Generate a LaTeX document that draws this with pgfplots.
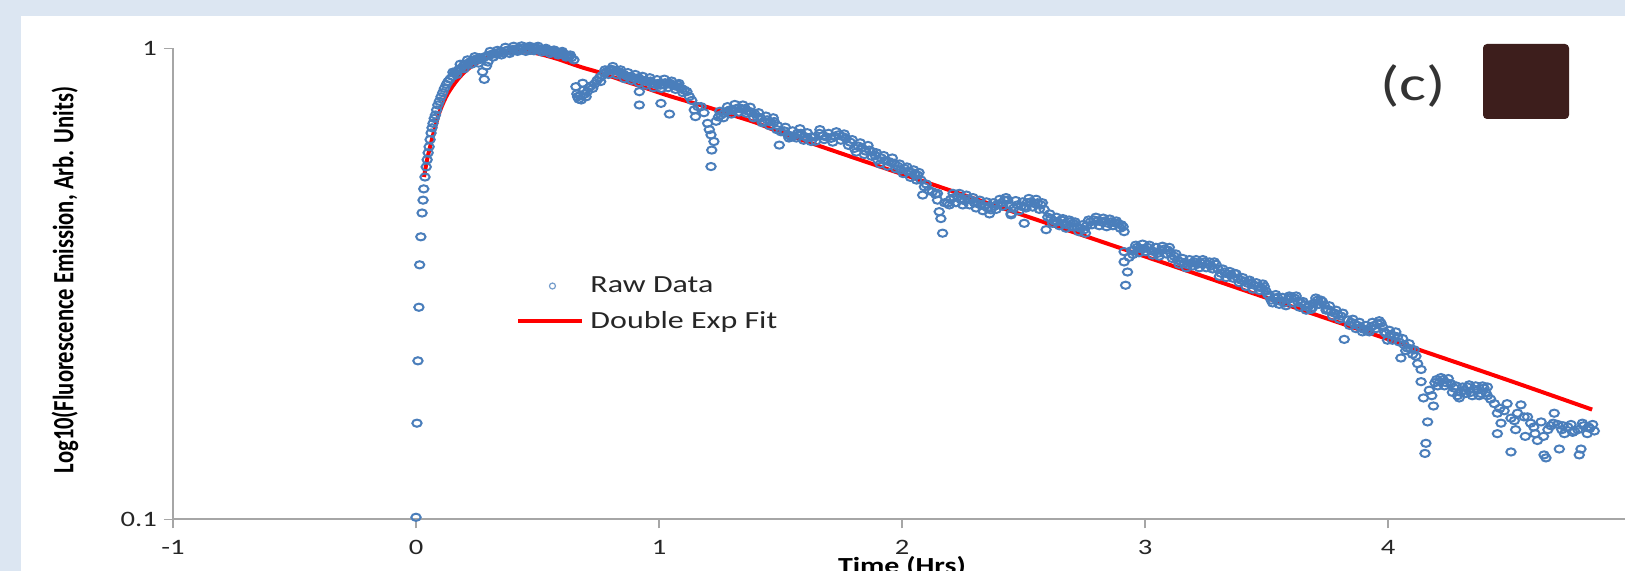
\documentclass[border=0pt]{standalone}
\usepackage{pgfplots}
\pgfplotsset{compat=1.18}
\usepackage{fontspec}
\setmainfont{Carlito}[FakeStretch=1.3]
\newfontfamily\ylabfont{Carlito}
\definecolor{bgblue}{HTML}{DCE6F2}
\definecolor{rawblue}{HTML}{4A7EBB}
\definecolor{axgray}{HTML}{A6A6A6}
\definecolor{txt}{HTML}{262626}
\definecolor{sq}{HTML}{3D1E1C}
\definecolor{fitred}{HTML}{FF0000}
\pgfplotsset{
  fitimg/.style={legend image code/.code={\path (0pt,0pt) (32pt,0pt); \draw[##1] (0pt,0pt) -- (32pt,0pt);}},
  rawimg/.style={legend image code/.code={\path (0pt,0pt) (32pt,0pt); \draw[##1, mark options={line width=0.6pt, mark size=1.5pt, draw=rawblue!75}] plot coordinates {(17pt,0pt)};}},
}
\begin{document}
\begin{tikzpicture}
\useasboundingbox (-86.5pt,-25.85pt) rectangle (726pt,259.65pt);
\clip (-86.5pt,-25.85pt) rectangle (726pt,259.65pt);
\fill[bgblue] (-86.5pt,-25.85pt) rectangle (726pt,259.65pt);
\fill[white] (-76pt,-25.85pt) rectangle (726pt,251.65pt);
\begin{axis}[
  at={(0pt,0pt)}, anchor=south west,
  scale only axis, width=729pt, height=235.5pt,
  xmin=-1, xmax=5, ymode=log, ymin=0.1, ymax=1,
  axis lines*=left,
  axis line style={axgray, line width=0.9pt},
  xtick={-1,0,1,2,3,4}, xticklabels={-1,0,1,2,3,4},
  ytick={0.1,1}, yticklabels={0.1,1},
  yminorticks=false, xminorticks=false,
  tick align=outside, major tick length=4.5pt,
  tick style={axgray, line width=0.7pt},
  ticklabel style={font=\fontsize{11}{13}\selectfont, text=txt},
  xticklabel style={yshift=-2.3pt},
  xlabel={\bfseries Time (Hrs)},
  xlabel style={at={(axis description cs:0.5,-0.079)}, anchor=north, inner sep=0pt, font=\fontsize{11.5}{13}\selectfont, text=black},
  ylabel={\scalebox{1}[1.3]{\ylabfont\bfseries Log10(Fluorescence Emission, Arb. Units)}},
  ylabel style={at={(axis description cs:-0.0741,0.508)}, anchor=center, inner sep=0pt, font=\fontsize{11.3}{13}\selectfont, text=black},
  clip=false,
  reverse legend,
  legend cell align=left,
  legend style={at={(0.2353,0.457)}, anchor=west, draw=none, fill=none,
    inner sep=0pt, row sep=8pt, column sep=3pt,
    font=\fontsize{12.3}{14}\selectfont, text=txt,
    nodes={inner sep=0pt}},
]
\addplot[fitred, line width=2pt, smooth, fitimg]
  table {
0.033 0.533
0.045 0.578
0.062 0.630
0.082 0.690
0.100 0.740
0.130 0.800
0.170 0.857
0.210 0.900
0.260 0.937
0.320 0.965
0.380 0.980
0.440 0.985
0.500 0.975
0.580 0.950
0.680 0.912
0.750 0.890
0.850 0.855
0.950 0.822
1.050 0.790
1.200 0.750
1.270 0.730
1.400 0.695
1.470 0.672
1.650 0.623
1.900 0.563
2.160 0.507
2.540 0.435
2.870 0.381
3.340 0.315
3.720 0.270
4.150 0.227
4.500 0.197
4.840 0.171
};
\addlegendentry{Double Exp Fit}
\addplot[only marks, mark=o, mark size=1.8pt,
  mark options={draw=rawblue, line width=1pt, xscale=1.3}, rawimg]
  table {
0.000 0.101
0.004 0.160
0.008 0.217
0.012 0.282
0.015 0.347
0.020 0.398
0.025 0.447
0.029 0.476
0.032 0.503
0.037 0.533
0.042 0.560
0.046 0.580
0.050 0.600
0.054 0.618
0.058 0.640
0.062 0.661
0.066 0.678
0.070 0.693
0.075 0.710
0.080 0.722
0.085 0.740
0.090 0.758
0.096 0.772
0.103 0.789
0.110 0.805
0.117 0.822
0.125 0.838
0.132 0.850
0.140 0.860
0.150 0.872
0.158 0.885
0.166 0.893
0.175 0.900
0.185 0.907
0.195 0.918
0.205 0.925
0.215 0.930
0.225 0.938
0.235 0.942
0.245 0.948
0.255 0.944
0.262 0.955
0.270 0.950
0.274 0.892
0.281 0.859
0.290 0.917
0.296 0.935
0.280 0.958
0.290 0.962
0.300 0.966
0.310 0.970
0.320 0.975
0.330 0.972
0.340 0.980
0.350 0.984
0.360 0.978
0.370 0.988
0.380 0.992
0.390 0.985
0.400 0.995
0.410 0.990
0.420 1.000
0.430 0.993
0.440 1.002
0.450 0.996
0.460 1.000
0.470 0.990
0.480 1.002
0.490 0.998
0.500 1.000
0.510 0.992
0.520 0.995
0.530 0.988
0.540 0.992
0.550 0.986
0.560 0.988
0.570 0.980
0.580 0.983
0.590 0.975
0.600 0.978
0.610 0.970
0.620 0.968
0.630 0.960
0.640 0.955
0.650 0.945
0.658 0.829
0.662 0.800
0.665 0.789
0.670 0.780
0.675 0.795
0.680 0.777
0.686 0.843
0.690 0.815
0.695 0.800
0.700 0.789
0.705 0.809
0.712 0.825
0.720 0.832
0.727 0.822
0.735 0.840
0.745 0.855
0.755 0.866
0.765 0.875
0.775 0.885
0.785 0.893
0.795 0.900
0.805 0.902
0.815 0.898
0.825 0.895
0.835 0.892
0.845 0.885
0.855 0.880
0.865 0.874
0.875 0.870
0.885 0.872
0.895 0.865
0.905 0.862
0.915 0.866
0.919 0.809
0.919 0.758
0.925 0.858
0.935 0.855
0.945 0.852
0.955 0.848
0.965 0.852
0.975 0.842
0.985 0.838
0.995 0.842
1.005 0.835
1.008 0.764
1.015 0.838
1.025 0.845
1.035 0.840
1.043 0.725
1.045 0.843
1.055 0.836
1.065 0.832
1.075 0.838
1.085 0.826
1.095 0.820
1.105 0.815
1.115 0.809
1.125 0.790
1.135 0.775
1.145 0.740
1.150 0.716
1.160 0.752
1.173 0.752
1.185 0.730
1.200 0.693
1.207 0.672
1.214 0.655
1.217 0.608
1.214 0.561
1.226 0.634
1.235 0.700
1.245 0.715
1.255 0.722
1.268 0.728
1.280 0.735
1.292 0.740
1.305 0.738
1.318 0.745
1.330 0.748
1.342 0.742
1.355 0.745
1.368 0.735
1.380 0.732
1.392 0.728
1.405 0.715
1.418 0.712
1.433 0.699
1.445 0.705
1.458 0.698
1.474 0.699
1.488 0.685
1.502 0.665
1.495 0.623
1.515 0.668
1.530 0.655
1.543 0.649
1.556 0.652
1.570 0.660
1.584 0.660
1.597 0.650
1.611 0.645
1.626 0.634
1.640 0.648
1.660 0.660
1.675 0.652
1.690 0.648
1.708 0.644
1.722 0.650
1.738 0.655
1.755 0.650
1.770 0.644
1.787 0.632
1.804 0.613
1.820 0.620
1.835 0.615
1.850 0.605
1.865 0.608
1.879 0.603
1.890 0.592
1.900 0.579
1.915 0.585
1.930 0.578
1.945 0.575
1.955 0.572
1.969 0.570
1.982 0.562
1.996 0.552
2.010 0.556
2.025 0.548
2.040 0.545
2.052 0.540
2.064 0.538
2.078 0.525
2.085 0.488
2.092 0.508
2.100 0.515
2.110 0.500
2.125 0.496
2.138 0.490
2.146 0.492
2.146 0.476
2.153 0.450
2.160 0.435
2.167 0.405
2.175 0.470
2.187 0.469
2.200 0.478
2.214 0.482
2.228 0.484
2.242 0.478
2.256 0.475
2.270 0.479
2.284 0.476
2.298 0.470
2.312 0.468
2.325 0.465
2.340 0.462
2.353 0.458
2.366 0.454
2.380 0.462
2.393 0.466
2.407 0.469
2.421 0.476
2.435 0.476
2.449 0.446
2.449 0.443
2.460 0.458
2.475 0.465
2.490 0.462
2.503 0.461
2.503 0.425
2.515 0.470
2.530 0.472
2.545 0.468
2.558 0.470
2.572 0.465
2.585 0.455
2.593 0.412
2.600 0.438
2.613 0.435
2.626 0.430
2.640 0.428
2.655 0.432
2.668 0.425
2.679 0.422
2.692 0.428
2.705 0.425
2.720 0.418
2.735 0.415
2.750 0.412
2.760 0.420
2.775 0.428
2.790 0.432
2.805 0.430
2.820 0.428
2.835 0.430
2.848 0.425
2.860 0.428
2.875 0.426
2.890 0.424
2.903 0.422
2.910 0.418
2.914 0.408
2.914 0.370
2.914 0.352
2.928 0.335
2.920 0.314
2.935 0.360
2.945 0.372
2.955 0.373
2.968 0.378
2.980 0.376
2.997 0.376
3.010 0.378
3.025 0.372
3.038 0.370
3.052 0.367
3.065 0.372
3.080 0.375
3.093 0.373
3.105 0.368
3.120 0.362
3.134 0.355
3.148 0.352
3.162 0.350
3.176 0.347
3.190 0.350
3.203 0.352
3.217 0.348
3.230 0.350
3.245 0.352
3.258 0.348
3.272 0.345
3.285 0.352
3.300 0.340
3.313 0.333
3.327 0.335
3.340 0.332
3.355 0.330
3.368 0.333
3.382 0.325
3.395 0.322
3.410 0.320
3.423 0.317
3.437 0.318
3.450 0.314
3.465 0.312
3.478 0.310
3.491 0.312
3.505 0.300
3.519 0.292
3.532 0.295
3.545 0.296
3.560 0.290
3.574 0.288
3.588 0.293
3.601 0.296
3.615 0.295
3.628 0.290
3.642 0.288
3.656 0.285
3.670 0.282
3.683 0.279
3.696 0.288
3.710 0.292
3.724 0.292
3.738 0.285
3.752 0.279
3.766 0.276
3.780 0.274
3.793 0.272
3.807 0.270
3.820 0.241
3.835 0.265
3.848 0.262
3.862 0.260
3.875 0.258
3.889 0.255
3.902 0.253
3.916 0.252
3.930 0.256
3.943 0.258
3.957 0.260
3.971 0.261
3.985 0.250
3.998 0.240
4.012 0.247
4.025 0.245
4.039 0.244
4.053 0.220
4.066 0.235
4.080 0.231
4.094 0.230
4.108 0.229
4.115 0.222
4.122 0.214
4.136 0.208
4.136 0.196
4.146 0.181
4.152 0.138
4.156 0.145
4.163 0.161
4.170 0.188
4.180 0.183
4.187 0.174
4.193 0.195
4.200 0.198
4.213 0.196
4.227 0.198
4.240 0.195
4.259 0.194
4.272 0.190
4.286 0.183
4.300 0.186
4.313 0.188
4.327 0.191
4.340 0.186
4.354 0.189
4.368 0.188
4.382 0.185
4.395 0.190
4.409 0.191
4.409 0.183
4.422 0.180
4.438 0.176
4.450 0.168
4.450 0.152
4.460 0.172
4.465 0.160
4.478 0.170
4.490 0.176
4.506 0.164
4.506 0.139
4.520 0.162
4.525 0.155
4.533 0.168
4.547 0.175
4.560 0.165
4.565 0.150
4.574 0.165
4.587 0.160
4.600 0.157
4.605 0.152
4.615 0.147
4.630 0.161
4.640 0.150
4.642 0.137
4.650 0.135
4.658 0.155
4.670 0.158
4.680 0.160
4.684 0.168
4.698 0.159
4.705 0.141
4.715 0.155
4.720 0.158
4.726 0.152
4.740 0.157
4.753 0.159
4.760 0.153
4.767 0.154
4.781 0.155
4.787 0.137
4.794 0.141
4.800 0.160
4.805 0.158
4.820 0.152
4.825 0.157
4.830 0.156
4.842 0.159
4.849 0.154
0.152 0.890
0.168 0.880
0.182 0.925
0.198 0.905
0.212 0.945
0.228 0.925
0.242 0.960
0.258 0.930
0.305 0.985
0.318 0.958
0.335 0.990
0.352 0.968
0.368 1.005
0.385 0.975
0.402 1.010
0.418 0.985
0.435 1.012
0.452 0.985
0.468 1.010
0.485 0.988
0.502 1.010
0.518 0.982
0.535 1.000
0.552 0.975
0.568 0.992
0.585 0.968
0.602 0.985
0.618 0.958
0.635 0.968
0.760 0.850
0.778 0.900
0.792 0.880
0.810 0.915
0.828 0.878
0.842 0.900
0.858 0.862
0.872 0.888
0.888 0.855
0.902 0.880
0.918 0.845
0.932 0.872
0.948 0.835
0.962 0.866
0.978 0.825
0.992 0.858
1.010 0.822
1.022 0.860
1.038 0.825
1.052 0.852
1.068 0.818
1.082 0.842
1.098 0.805
1.250 0.735
1.265 0.712
1.282 0.752
1.298 0.725
1.312 0.760
1.328 0.732
1.345 0.758
1.360 0.728
1.375 0.750
1.390 0.712
1.410 0.730
1.425 0.695
1.440 0.718
1.455 0.685
1.470 0.712
1.485 0.672
1.520 0.680
1.535 0.645
1.550 0.668
1.565 0.645
1.580 0.675
1.595 0.638
1.610 0.662
1.625 0.648
1.645 0.635
1.662 0.672
1.680 0.640
1.698 0.660
1.715 0.632
1.730 0.665
1.748 0.638
1.762 0.658
1.780 0.622
1.795 0.640
1.812 0.602
1.828 0.630
1.845 0.595
1.860 0.622
1.875 0.590
1.895 0.600
1.910 0.568
1.925 0.592
1.940 0.562
1.960 0.585
1.975 0.555
1.990 0.568
2.005 0.542
2.020 0.560
2.035 0.532
2.048 0.552
2.060 0.525
2.070 0.545
2.195 0.465
2.210 0.492
2.222 0.470
2.236 0.492
2.250 0.465
2.265 0.488
2.278 0.465
2.292 0.482
2.305 0.458
2.320 0.476
2.333 0.452
2.348 0.472
2.360 0.445
2.375 0.470
2.388 0.455
2.402 0.478
2.415 0.462
2.428 0.482
2.442 0.465
2.468 0.475
2.482 0.452
2.496 0.472
2.510 0.458
2.522 0.480
2.538 0.460
2.552 0.478
2.565 0.455
2.578 0.470
2.608 0.445
2.620 0.425
2.635 0.438
2.648 0.420
2.662 0.435
2.675 0.415
2.688 0.432
2.700 0.418
2.712 0.428
2.728 0.408
2.742 0.422
2.755 0.405
2.768 0.432
2.782 0.422
2.798 0.438
2.812 0.420
2.828 0.436
2.842 0.418
2.855 0.434
2.868 0.420
2.882 0.430
2.898 0.415
2.950 0.365
2.962 0.382
2.975 0.368
2.990 0.384
3.003 0.370
3.018 0.382
3.032 0.364
3.045 0.378
3.058 0.362
3.072 0.380
3.086 0.366
3.100 0.378
3.112 0.358
3.127 0.366
3.140 0.348
3.155 0.358
3.170 0.342
3.183 0.356
3.197 0.345
3.210 0.356
3.224 0.342
3.238 0.356
3.252 0.342
3.265 0.352
3.278 0.340
3.292 0.348
3.306 0.328
3.320 0.340
3.334 0.326
3.348 0.336
3.362 0.325
3.375 0.332
3.388 0.318
3.402 0.326
3.416 0.312
3.430 0.322
3.444 0.308
3.458 0.318
3.472 0.306
3.485 0.316
3.498 0.305
3.512 0.298
3.525 0.288
3.538 0.300
3.552 0.286
3.566 0.296
3.580 0.284
3.594 0.298
3.608 0.288
3.622 0.298
3.636 0.282
3.650 0.290
3.663 0.278
3.676 0.285
3.690 0.282
3.703 0.295
3.716 0.286
3.730 0.290
3.745 0.278
3.759 0.284
3.772 0.270
3.786 0.278
3.800 0.266
3.814 0.274
3.842 0.258
3.855 0.266
3.868 0.254
3.882 0.262
3.895 0.250
3.909 0.258
3.923 0.250
3.936 0.262
3.950 0.254
3.964 0.264
3.978 0.256
3.992 0.248
4.005 0.252
4.018 0.240
4.032 0.250
4.046 0.238
4.060 0.242
4.073 0.228
4.087 0.236
4.101 0.224
4.205 0.192
4.218 0.200
4.232 0.192
4.248 0.199
4.265 0.186
4.280 0.192
4.293 0.181
4.307 0.191
4.320 0.185
4.334 0.193
4.347 0.183
4.361 0.192
4.375 0.183
4.389 0.192
4.402 0.186
};
\addlegendentry{Raw Data}
\end{axis}
\node[font=\fontsize{24.5}{27}\selectfont, text={rgb,255:red,51;green,51;blue,51}] at (620pt,216.65pt) {(c)};
\fill[sq, rounded corners=2pt] (655pt,200.15pt) rectangle (698pt,237.65pt);
\end{tikzpicture}
\end{document}
